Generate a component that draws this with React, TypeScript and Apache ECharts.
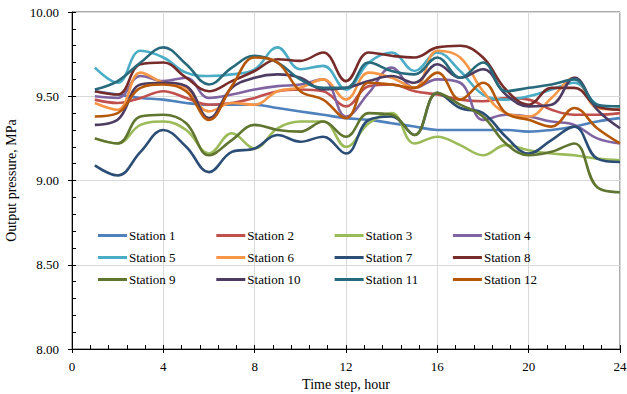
import React, { useEffect, useRef } from "react";
import * as echarts from "echarts";

const hours = [1, 2, 3, 4, 5, 6, 7, 8, 9, 10, 11, 12, 13, 14, 15, 16, 17, 18, 19, 20, 21, 22, 23, 24];

const stationNames = [
  "Station 1", "Station 2", "Station 3", "Station 4",
  "Station 5", "Station 6", "Station 7", "Station 8",
  "Station 9", "Station 10", "Station 11", "Station 12",
];

const stationColors = [
  "#4F81BD", "#C0504D", "#9BBB59", "#8064A2",
  "#4BACC6", "#F79646", "#2C4D75", "#772C2A",
  "#5F7530", "#4D3B62", "#276A7C", "#B65708",
];

const station1 = [9.53, 9.51, 9.49, 9.48, 9.46, 9.45, 9.45, 9.45, 9.43, 9.41, 9.39, 9.37, 9.36, 9.34, 9.32, 9.30, 9.30, 9.30, 9.30, 9.29, 9.30, 9.32, 9.35, 9.37];
const station2 = [9.48, 9.46, 9.49, 9.53, 9.49, 9.45, 9.46, 9.49, 9.53, 9.54, 9.53, 9.44, 9.56, 9.57, 9.53, 9.51, 9.48, 9.47, 9.49, 9.48, 9.42, 9.39, 9.39, 9.40];
const station3 = [9.25, 9.22, 9.33, 9.35, 9.30, 9.16, 9.28, 9.19, 9.31, 9.35, 9.35, 9.20, 9.34, 9.40, 9.22, 9.26, 9.21, 9.15, 9.21, 9.18, 9.16, 9.15, 9.13, 9.12];
const station4 = [9.50, 9.49, 9.62, 9.59, 9.61, 9.49, 9.51, 9.54, 9.56, 9.57, 9.60, 9.38, 9.52, 9.67, 9.55, 9.60, 9.58, 9.36, 9.39, 9.38, 9.35, 9.33, 9.25, 9.22];
const station5 = [9.67, 9.58, 9.77, 9.73, 9.64, 9.62, 9.63, 9.66, 9.79, 9.66, 9.68, 9.54, 9.70, 9.76, 9.65, 9.76, 9.65, 9.51, 9.48, 9.50, 9.54, 9.58, 9.45, 9.42];
const station6 = [9.46, 9.42, 9.64, 9.58, 9.55, 9.41, 9.46, 9.45, 9.53, 9.55, 9.60, 9.48, 9.64, 9.61, 9.55, 9.77, 9.73, 9.53, 9.40, 9.38, 9.49, 9.61, 9.43, 9.42];
const station7 = [9.09, 9.03, 9.17, 9.30, 9.20, 9.05, 9.17, 9.19, 9.27, 9.23, 9.26, 9.16, 9.36, 9.38, 9.27, 9.52, 9.43, 9.40, 9.26, 9.16, 9.24, 9.32, 9.13, 9.11];
const station8 = [9.53, 9.51, 9.69, 9.70, 9.61, 9.53, 9.59, 9.65, 9.72, 9.71, 9.76, 9.59, 9.76, 9.74, 9.73, 9.79, 9.80, 9.73, 9.54, 9.45, 9.55, 9.55, 9.44, 9.42];
const station9 = [9.25, 9.22, 9.38, 9.39, 9.34, 9.15, 9.24, 9.33, 9.30, 9.29, 9.35, 9.26, 9.40, 9.39, 9.27, 9.52, 9.45, 9.38, 9.22, 9.15, 9.17, 9.22, 8.96, 8.93];
const station10 = [9.33, 9.36, 9.57, 9.58, 9.56, 9.37, 9.55, 9.61, 9.63, 9.61, 9.54, 9.55, 9.59, 9.62, 9.58, 9.69, 9.61, 9.66, 9.51, 9.44, 9.45, 9.61, 9.42, 9.31];
const station11 = [9.54, 9.59, 9.70, 9.79, 9.69, 9.57, 9.67, 9.74, 9.70, 9.60, 9.55, 9.55, 9.70, 9.65, 9.63, 9.73, 9.61, 9.70, 9.53, 9.55, 9.57, 9.60, 9.45, 9.44];
const station12 = [9.38, 9.40, 9.55, 9.57, 9.53, 9.36, 9.56, 9.73, 9.70, 9.53, 9.48, 9.37, 9.58, 9.57, 9.55, 9.64, 9.48, 9.58, 9.40, 9.36, 9.32, 9.43, 9.31, 9.22];

const stationValues = [
  station1, station2, station3, station4, station5, station6,
  station7, station8, station9, station10, station11, station12,
];

const FONT = "Liberation Serif";

export default function App() {
  const ref = useRef<HTMLDivElement>(null);

  useEffect(() => {
    if (!ref.current) return;
    const chart = echarts.init(ref.current, undefined, { renderer: "svg" });

    const legendCols = [0, 1, 2, 3].map((c) => ({
      orient: "vertical" as const,
      left: 98 + c * 118.3,
      top: 229,
      itemGap: 9,
      itemWidth: 29,
      itemHeight: 3,
      icon: "rect",
      padding: 0,
      data: [stationNames[c], stationNames[c + 4], stationNames[c + 8]],
      formatter: (n: string) => "{t|" + n + "}",
      textStyle: {
        fontFamily: FONT,
        fontSize: 13,
        color: "#000",
        rich: { t: { fontFamily: FONT, fontSize: 13, color: "#000", padding: [0, 0, 0, -3] } },
      },
    }));

    const series = stationNames.map((name, i) => ({
      name,
      type: "line" as const,
      smooth: 0.4,
      showSymbol: false,
      symbol: "none",
      data: hours.map((h, j) => [h, stationValues[i][j]]),
      lineStyle: { color: stationColors[i], width: 2.6 },
      itemStyle: { color: stationColors[i] },
      xAxisIndex: 0,
      yAxisIndex: 0,
    }));

    chart.setOption({
      animation: false,
      backgroundColor: "#fff",
      textStyle: { fontFamily: FONT },
      grid: {
        left: 72,
        right: 7,
        top: 12,
        bottom: 45,
        show: true,
        borderColor: "#595959",
        borderWidth: 1,
        containLabel: false,
        outerBoundsMode: "none",
      },
      legend: legendCols,
      xAxis: [
        {
          type: "value",
          min: 0,
          max: 24,
          interval: 4,
          name: "Time step, hour",
          nameLocation: "middle",
          nameGap: 26,
          nameTextStyle: { fontFamily: FONT, fontSize: 14, color: "#000" },
          axisLine: { show: true, lineStyle: { color: "#000", width: 1 } },
          axisTick: { show: true, inside: true, length: 4, lineStyle: { color: "#000" } },
          minorTick: { show: true, splitNumber: 5, length: 4, lineStyle: { color: "#000" } },
          axisLabel: { fontFamily: FONT, fontSize: 13, color: "#000", margin: 11 },
          splitLine: { show: true, lineStyle: { color: "#D9D9D9", width: 1 } },
        },
        {
          type: "value",
          min: 0,
          max: 24,
          interval: 4,
          position: "bottom",
          axisLine: { show: false },
          axisTick: { show: true, inside: false, length: 4, lineStyle: { color: "#000" } },
          axisLabel: { show: false },
          splitLine: { show: false },
        },
      ],
      yAxis: [
        {
          type: "value",
          min: 8,
          max: 10,
          interval: 0.5,
          name: "Output pressure, MPa",
          nameLocation: "middle",
          nameGap: 52,
          nameTextStyle: { fontFamily: FONT, fontSize: 14, color: "#000" },
          axisLine: { show: true, lineStyle: { color: "#000", width: 1 } },
          axisTick: { show: true, inside: true, length: 4, lineStyle: { color: "#000" } },
          minorTick: { show: true, splitNumber: 5, length: 4, lineStyle: { color: "#000" } },
          axisLabel: {
            fontFamily: FONT,
            fontSize: 13,
            color: "#000",
            margin: 13,
            formatter: (v: number) => v.toFixed(2),
          },
          splitLine: { show: true, lineStyle: { color: "#D9D9D9", width: 1 } },
        },
        {
          type: "value",
          min: 8,
          max: 10,
          interval: 0.5,
          position: "left",
          axisLine: { show: false },
          axisTick: { show: true, inside: false, length: 4, lineStyle: { color: "#000" } },
          axisLabel: { show: false },
          splitLine: { show: false },
        },
      ],
      series,
    });

    return () => chart.dispose();
  }, []);

  return (
    <div
      ref={ref}
      style={{ position: "fixed", left: 0, top: 0, width: 627, height: 394, background: "#fff" }}
    />
  );
}
